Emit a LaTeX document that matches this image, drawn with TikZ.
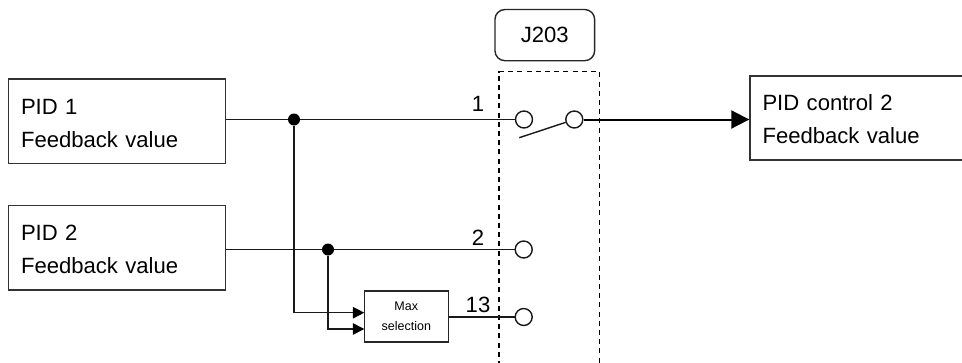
\documentclass[tikz,border=0pt]{standalone}
\usepackage{fontspec}
\setmainfont{Liberation Sans}
\usetikzlibrary{arrows.meta}
\newcommand\twolines[2]{\rule{0pt}{19pt}#1\\#2}
\tikzset{
  wire/.style={line width=1.4pt, draw=black!90},
  heavywire/.style={line width=2pt, draw=black},
  blockbox/.style={draw=black!80, line width=1.4pt, fill=white, inner xsep=12.5pt, inner ysep=0pt, anchor=center, align=left,
     font=\fontsize{22.1}{33}\selectfont},
  smallbox/.style={draw=black!85, line width=1.4pt, fill=white, inner sep=0pt, align=center, minimum width=84pt, minimum height=51pt,
     font=\fontsize{12.5}{20}\selectfont},
  tagbox/.style={draw=black!85, line width=1.4pt, rounded corners=10pt, inner sep=0pt, minimum width=99.7pt, minimum height=51.2pt,
     font=\fontsize{22.1}{24}\selectfont},
  contact/.style={circle, draw=black!90, line width=1.4pt, fill=white, inner sep=0pt, minimum size=17pt},
  junction/.style={circle, fill=black, inner sep=0pt, minimum size=12pt},
  numlabel/.style={anchor=base, inner sep=0pt, font=\fontsize{22.1}{24}\selectfont},
  frameline/.style={line width=1.4pt, draw=black, dash pattern=on 5pt off 4.2pt},
  smalltip/.style={-{Triangle[length=11.5pt,width=11.5pt,color=black]}},
  bigtip/.style={-{Triangle[length=18pt,width=18pt]}}
}
\begin{document}
\begin{tikzpicture}[x=1pt,y=-1pt]
\useasboundingbox (0,0) rectangle (962,362);
% dashed frame
\coordinate (fa) at (499,366);
\coordinate (fb) at (499,71.5);
\coordinate (fc) at (599.3,71.5);
\coordinate (fd) at (599.3,366);
\draw[frameline] (fa) -- (fb) -- (fc) -- (fd);
% blocks
\node[blockbox, text width=192pt, minimum height=84.5pt] (b1) at (117,121.25) {\twolines{PID 1}{Feedback value}};
\node[blockbox, text width=192pt, minimum height=84.5pt] (b2) at (117,247.75) {\twolines{PID 2}{Feedback value}};
\node[blockbox, text width=205pt, minimum height=84pt] (b3) at (865,118) {\twolines{PID control 2}{Feedback value}};
\node[smallbox] (m) at (406.3,316.5) {Max\\selection};
\node[tagbox] (t) at (544.8,35.1) {J203};
% junctions and contacts
\node[junction] (j1) at (294,119.5) {};
\node[junction] (j2) at (328,249.5) {};
\node[contact] (c1) at (524,119.5) {};
\node[contact] (c2) at (574.3,119.5) {};
\node[contact] (c3) at (523.7,249.5) {};
\node[contact] (c4) at (523.7,317) {};
\coordinate (s) at (519.3,137.7);
\coordinate (in1) at (364.3,312.7);
\coordinate (in2) at (364.3,329);
% connectors
\draw[wire] (b1.east |- j1) -- (j1);
\draw[wire] (j1) -- (c1);
\draw[wire] (b2.east |- j2) -- (j2);
\draw[wire] (j2) -- (c3);
\draw[wire] (m.east |- c4) -- (c4);
\draw[wire] (s) -- (c2);
\draw[wire,smalltip] (j1) |- (in1);
\draw[wire,smalltip] (j2) |- (in2);
\draw[heavywire,bigtip] (c2) -- (b3.west |- c2);
% labels
\node[numlabel] (n1) at (478,111) {1};
\node[numlabel] (n2) at (478,245) {2};
\node[numlabel] (n3) at (478,312) {13};
\end{tikzpicture}
\end{document}
